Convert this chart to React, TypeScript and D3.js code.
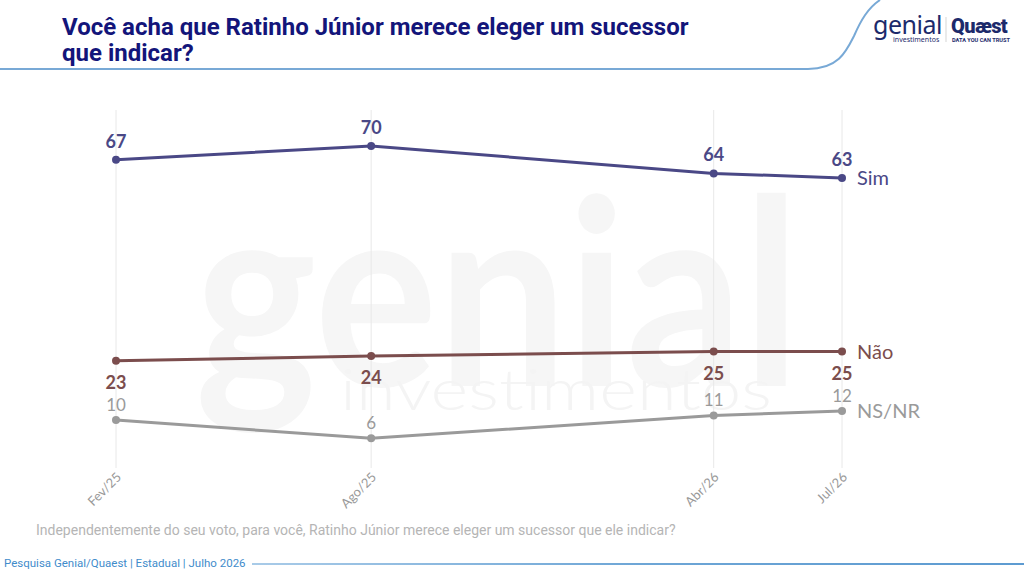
import * as d3 from "d3";

const months = ["Fev/25", "Ago/25", "Abr/26", "Jul/26"];
const dates = [
  new Date(2025, 1, 1),
  new Date(2025, 7, 1),
  new Date(2026, 3, 1),
  new Date(2026, 6, 1),
];
const sim = [67, 70, 64, 63];
const nao = [23, 24, 25, 25];
const nsnr = [10, 6, 11, 12];

const seriesNames = ["Sim", "Não", "NS/NR"];

const W = 1024;
const H = 574;

const App = () => {
  const x = d3
    .scaleTime()
    .domain([dates[0], dates[dates.length - 1]])
    .range([116, 842]);
  const y = d3.scaleLinear().domain([0, 70]).range([465.7, 146]);

  const line = d3
    .line<number>()
    .x((_, i) => x(dates[i]))
    .y((d) => y(d));

  const series = [
    { name: seriesNames[0], values: sim, color: "#4a4886", labelDy: -12, bold: true, size: 18 },
    { name: seriesNames[1], values: nao, color: "#7b4d4d", labelDy: 28, bold: true, size: 18 },
    { name: seriesNames[2], values: nsnr, color: "#9a9a9a", labelDy: -9, bold: false, size: 17 },
  ];

  const font = "Lato, 'Open Sans', sans-serif";

  return (
    <svg
      width={W}
      height={H}
      viewBox={`0 0 ${W} ${H}`}
      style={{ position: "absolute", left: 0, top: 0, background: "#fff" }}
    >
      <defs>
        <linearGradient id="footGrad" gradientUnits="userSpaceOnUse" x1="252" x2="1024" y1="0" y2="0">
          <stop offset="0" stopColor="#a9cbe8" />
          <stop offset="0.5" stopColor="#6ea6d6" />
          <stop offset="1" stopColor="#5d9bd1" />
        </linearGradient>
      </defs>

      {/* watermark */}
      <text
        x={195}
        y={386}
        fontFamily="Lato, sans-serif"
        fontWeight={700}
        fontSize={260}
        fill="#f6f6f6"
        textLength={605}
        lengthAdjust="spacingAndGlyphs"
      >
        genial
      </text>
      <text
        x={340}
        y={410}
        fontFamily="Lato, sans-serif"
        fontWeight={300}
        fontSize={58}
        fill="#f4f4f4"
        textLength={432}
        lengthAdjust="spacingAndGlyphs"
      >
        investimentos
      </text>

      {/* header */}
      <text fontFamily="Roboto, sans-serif" fontWeight={700} fontSize={24} fill="#13157a">
        <tspan x={62} y={35}>Você acha que Ratinho Júnior merece eleger um sucessor</tspan>
        <tspan x={62} y={61}>que indicar?</tspan>
      </text>
      <path
        d="M0,69 L808,69 C838,69 846,52 854,36 C861,20 868,8 880,0"
        fill="none"
        stroke="#78a9d6"
        strokeWidth={2}
      />

      {/* logos */}
      <text x={873} y={34} fontFamily="'Noto Sans', sans-serif" fontSize={25} fill="#1c2a6b" letterSpacing={-0.5}>
        genial
      </text>
      <text x={893} y={42} fontFamily="'Noto Sans', sans-serif" fontSize={7} fill="#1c2a6b">
        investimentos
      </text>
      <line x1={946} x2={946} y1={17} y2={42} stroke="#d5d5d5" strokeWidth={1} />
      <text x={951} y={33} fontFamily="Roboto, sans-serif" fontWeight={900} fontSize={20} fill="#1c2a6b" letterSpacing={-0.6}>
        Quæst
      </text>
      <text x={952} y={42} fontFamily="Roboto, sans-serif" fontWeight={700} fontSize={5.6} fill="#1c2a6b">
        DATA YOU CAN TRUST
      </text>

      {/* gridlines */}
      {dates.map((d, i) => (
        <line
          key={"g" + i}
          x1={x(d)}
          x2={x(d)}
          y1={110}
          y2={468}
          stroke="#e8e8e8"
          strokeWidth={1}
        />
      ))}

      {/* x tick labels */}
      {dates.map((d, i) => (
        <text
          key={"t" + i}
          transform={`translate(${x(d) + 6},${478}) rotate(-45)`}
          textAnchor="end"
          fontFamily={font}
          fontSize={13}
          fill="#999"
        >
          {months[i]}
        </text>
      ))}

      {/* series */}
      {series.map((s) => (
        <g key={s.name}>
          <path d={line(s.values) || ""} fill="none" stroke={s.color} strokeWidth={3} />
          {s.values.map((v, i) => (
            <circle key={i} cx={x(dates[i])} cy={y(v)} r={4} fill={s.color} />
          ))}
          {s.values.map((v, i) => (
            <text
              key={"l" + i}
              x={x(dates[i])}
              y={y(v) + s.labelDy}
              textAnchor="middle"
              fontFamily={font}
              fontWeight={s.bold ? 700 : 400}
              fontSize={s.size}
              fill={s.color}
            >
              {v}
            </text>
          ))}
          <text
            x={857}
            y={y(s.values[s.values.length - 1]) + 7}
            fontFamily={font}
            fontSize={20}
            fill={s.color}
          >
            {s.name}
          </text>
        </g>
      ))}

      {/* question */}
      <text x={36} y={535} fontFamily="Roboto, sans-serif" fontSize={14} fill="#b5b5b5">
        Independentemente do seu voto, para você, Ratinho Júnior merece eleger um sucessor que ele indicar?
      </text>

      {/* footer */}
      <text x={4} y={567} fontFamily="Roboto, sans-serif" fontSize={11.5} fill="#3f8ccb">
        Pesquisa Genial/Quaest | Estadual | Julho 2026
      </text>
      <line x1={252} x2={1024} y1={564} y2={564} stroke="url(#footGrad)" strokeWidth={2} />
    </svg>
  );
};

export default App;
